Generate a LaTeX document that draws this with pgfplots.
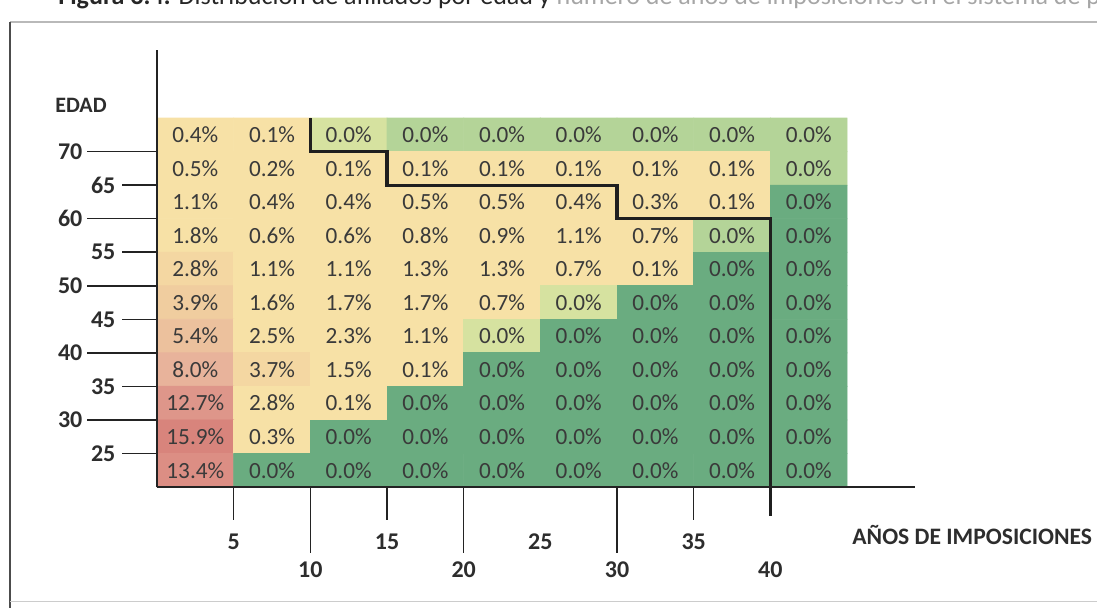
\documentclass[border=0pt]{standalone}
\usepackage{fontspec}
\setmainfont{Carlito}
\usepackage{pgfplots}
\usepackage{pgfplotstable}
\pgfplotsset{compat=1.18}
\definecolor{celltext}{RGB}{58,58,58}
\definecolor{axisgray}{RGB}{35,35,35}
\definecolor{ticktext}{RGB}{45,45,45}

% x = column centre (5-year bands of contributions), r = row centre counted from the top
% (r=0.5 is the oldest age band), v = percentage, c = colour class
\pgfplotstableread{
x r v c
0.5 0.5 0.4 3
1.5 0.5 0.1 3
2.5 0.5 0.0 2
3.5 0.5 0.0 1
4.5 0.5 0.0 1
5.5 0.5 0.0 1
6.5 0.5 0.0 1
7.5 0.5 0.0 1
8.5 0.5 0.0 1
0.5 1.5 0.5 3
1.5 1.5 0.2 3
2.5 1.5 0.1 3
3.5 1.5 0.1 3
4.5 1.5 0.1 3
5.5 1.5 0.1 3
6.5 1.5 0.1 3
7.5 1.5 0.1 3
8.5 1.5 0.0 1
0.5 2.5 1.1 3
1.5 2.5 0.4 3
2.5 2.5 0.4 3
3.5 2.5 0.5 3
4.5 2.5 0.5 3
5.5 2.5 0.4 3
6.5 2.5 0.3 3
7.5 2.5 0.1 3
8.5 2.5 0.0 0
0.5 3.5 1.8 3
1.5 3.5 0.6 3
2.5 3.5 0.6 3
3.5 3.5 0.8 3
4.5 3.5 0.9 3
5.5 3.5 1.1 3
6.5 3.5 0.7 3
7.5 3.5 0.0 1
8.5 3.5 0.0 0
0.5 4.5 2.8 4
1.5 4.5 1.1 3
2.5 4.5 1.1 3
3.5 4.5 1.3 3
4.5 4.5 1.3 3
5.5 4.5 0.7 3
6.5 4.5 0.1 3
7.5 4.5 0.0 0
8.5 4.5 0.0 0
0.5 5.5 3.9 5
1.5 5.5 1.6 3
2.5 5.5 1.7 3
3.5 5.5 1.7 3
4.5 5.5 0.7 3
5.5 5.5 0.0 2
6.5 5.5 0.0 0
7.5 5.5 0.0 0
8.5 5.5 0.0 0
0.5 6.5 5.4 6
1.5 6.5 2.5 3
2.5 6.5 2.3 3
3.5 6.5 1.1 3
4.5 6.5 0.0 2
5.5 6.5 0.0 0
6.5 6.5 0.0 0
7.5 6.5 0.0 0
8.5 6.5 0.0 0
0.5 7.5 8.0 7
1.5 7.5 3.7 4
2.5 7.5 1.5 3
3.5 7.5 0.1 3
4.5 7.5 0.0 0
5.5 7.5 0.0 0
6.5 7.5 0.0 0
7.5 7.5 0.0 0
8.5 7.5 0.0 0
0.5 8.5 12.7 8
1.5 8.5 2.8 3
2.5 8.5 0.1 3
3.5 8.5 0.0 0
4.5 8.5 0.0 0
5.5 8.5 0.0 0
6.5 8.5 0.0 0
7.5 8.5 0.0 0
8.5 8.5 0.0 0
0.5 9.5 15.9 9
1.5 9.5 0.3 3
2.5 9.5 0.0 0
3.5 9.5 0.0 0
4.5 9.5 0.0 0
5.5 9.5 0.0 0
6.5 9.5 0.0 0
7.5 9.5 0.0 0
8.5 9.5 0.0 0
0.5 10.5 13.4 10
1.5 10.5 0.0 0
2.5 10.5 0.0 0
3.5 10.5 0.0 0
4.5 10.5 0.0 0
5.5 10.5 0.0 0
6.5 10.5 0.0 0
7.5 10.5 0.0 0
8.5 10.5 0.0 0
}\cells

\begin{document}
\begin{tikzpicture}[x=1pt,y=1pt]
\useasboundingbox (0,0) rectangle (548.5,-304);
% page frame
\draw[gray!55, line width=1.4pt] (5,-11) -- (560,-11);
\draw[black!70, line width=0.7pt] (5,-11) -- (5,-310);
\draw[gray!40, line width=0.5pt] (5,-300.5) -- (560,-300.5);
% (cropped) caption
\node[anchor=base west, inner sep=0, font=\fontsize{13}{15}\selectfont, text=black!85] at (29,-2.2)
  {\textbf{Figura 3.4:} Distribución de afiliados por edad y \textcolor{black!35}{número de años de imposiciones en el sistema de pensiones}};

\begin{axis}[
  at={(78.5pt,-243.5pt)}, anchor=south west,
  scale only axis, width=379pt, height=218.5pt,
  xmin=0, xmax=9.886, ymin=-2.03, ymax=11,
  y dir=reverse,
  axis lines=left,
  axis line style={-, draw=axisgray, line width=0.8pt},
  axis on top, clip=false,
  major tick length=0pt,
  tick label style={font=\fontsize{12}{14}\selectfont\bfseries, text=ticktext},
  xtick={1,3,5,7}, xticklabels={5,15,25,35},
  xticklabel style={anchor=center, yshift=-27.5pt},
  extra x ticks={2,4,6,8}, extra x tick labels={10,20,30,40},
  extra x tick style={major tick length=0pt, xticklabel style={yshift=-14pt}},
  ytick={2,4,6,8,10}, yticklabels={65,55,45,35,25},
  yticklabel style={anchor=east, xshift=-17.3pt},
  extra y ticks={1,3,5,7,9}, extra y tick labels={70,60,50,40,30},
  extra y tick style={major tick length=0pt, yticklabel style={xshift=-16.5pt}},
  colormap={cells}{
    rgb255=(106,172,128) rgb255=(180,212,152) rgb255=(214,226,160)
    rgb255=(247,225,166) rgb255=(244,215,162) rgb255=(240,205,159)
    rgb255=(236,193,157) rgb255=(232,179,155) rgb255=(222,150,138)
    rgb255=(216,132,124) rgb255=(220,142,132)},
  point meta min=0, point meta max=10,
]
\addplot[matrix plot, mesh/cols=9, point meta=explicit]
  table[x=x, y=r, meta=c] {\cells};
\addplot[only marks, mark=*, mark size=0pt, mark options={draw=none, fill=none},
  point meta=explicit,
  nodes near coords={\pgfmathprintnumber[fixed, fixed zerofill, precision=1, assume math mode=true]{\pgfplotspointmeta}\%},
  nodes near coords align={center},
  every node near coord/.append style={font=\fontsize{11.6}{13}\selectfont, text=celltext, anchor=center}]
  table[x=x, y=r, meta=v] {\cells};
% step boundary
\addplot[black!88, line width=1.6pt, line join=miter, forget plot]
  coordinates {(2,0) (2,1) (3,1) (3,2) (6,2) (6,3) (8,3) (8,11.85)};
% tick marks
\pgfplotsinvokeforeach{1,3,7}{\draw[axisgray, line width=0.75pt] (axis cs:#1,11) -- ++(0pt,-16.5pt);}
\pgfplotsinvokeforeach{2,4,6}{\draw[axisgray, line width=0.75pt] (axis cs:#1,11) -- ++(0pt,-33pt);}
\pgfplotsinvokeforeach{2,4,6,8,10}{\draw[axisgray, line width=0.75pt] (axis cs:0,#1) -- ++(-17.5pt,0pt);}
\pgfplotsinvokeforeach{1,3,5,7,9}{\draw[axisgray, line width=0.75pt] (axis cs:0,#1) -- ++(-35pt,0pt);}
\end{axis}

\node[anchor=center, font=\fontsize{11}{13}\selectfont\bfseries, text=ticktext] at (40.5,-52.5) {EDAD};
\node[anchor=west, inner sep=0, font=\fontsize{11.8}{13}\selectfont\bfseries, text=ticktext] at (426,-267.5) {AÑOS DE IMPOSICIONES};
\end{tikzpicture}
\end{document}
